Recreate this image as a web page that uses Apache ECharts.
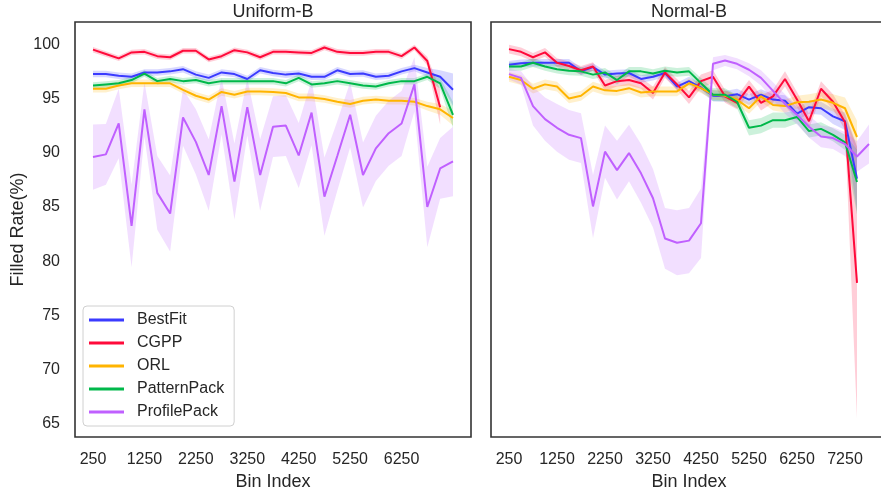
<!DOCTYPE html>
<html>
<head>
<meta charset="utf-8">
<script src="https://cdn.jsdelivr.net/npm/echarts@6/dist/echarts.min.js"></script>
<style>
  html, body { margin: 0; padding: 0; background: #fff; }
  #chart { width: 881px; height: 491px; }
</style>
</head>
<body>
<div id="chart"></div>
<script>
// bin positions (x) for each panel
const binsLeft = [250, 500, 750, 1000, 1250, 1500, 1750, 2000, 2250, 2500, 2750, 3000, 3250, 3500, 3750,
    4000, 4250, 4500, 4750, 5000, 5250, 5500, 5750, 6000, 6250, 6500, 6750, 7000, 7250];
const binsRight = [250, 500, 750, 1000, 1250, 1500, 1750, 2000, 2250, 2500, 2750, 3000, 3250, 3500, 3750,
    4000, 4250, 4500, 4750, 5000, 5250, 5500, 5750, 6000, 6250, 6500, 6750, 7000, 7250, 7500, 7750];

const xTicksLeft = [250, 1250, 2250, 3250, 4250, 5250, 6250];
const xTicksRight = [250, 1250, 2250, 3250, 4250, 5250, 6250, 7250];
const yTicks = [65, 70, 75, 80, 85, 90, 95, 100];

const methods = ['BestFit', 'CGPP', 'ORL', 'PatternPack', 'ProfilePack'];
const colors = ['#3b3bff', '#ff0a3a', '#ffb400', '#00b84a', '#c060ff'];

// Uniform-B: mean filled rate and CI half width
const uniBestFit = [97.25, 97.25, 97.1, 97.0, 97.4, 97.4, 97.5, 97.7, 97.2, 96.9, 97.4, 97.25, 96.8, 97.6, 97.35,
    97.2, 97.3, 97.0, 97.0, 97.6, 97.25, 97.3, 97.0, 97.1, 97.5, 97.8, 97.4, 97.0, 95.8];
const uniBestFitCi = [0.3, 0.3, 0.3, 0.3, 0.3, 0.3, 0.3, 0.3, 0.3, 0.3, 0.3, 0.3, 0.3, 0.3, 0.3,
    0.3, 0.3, 0.3, 0.3, 0.3, 0.3, 0.3, 0.3, 0.3, 0.3, 0.3, 0.4, 0.6, 1.5];
const uniCGPP = [99.5, 99.1, 98.7, 99.25, 99.3, 98.9, 98.8, 99.4, 99.4, 98.6, 98.9, 99.45, 99.25, 98.8, 99.3,
    99.3, 99.25, 99.2, 99.7, 99.3, 99.2, 99.2, 99.3, 99.3, 98.9, 99.7, 98.45, 94.2];
const uniCGPPCi = [0.25, 0.25, 0.25, 0.25, 0.25, 0.25, 0.25, 0.25, 0.25, 0.25, 0.25, 0.25, 0.25, 0.25, 0.25,
    0.25, 0.25, 0.25, 0.25, 0.25, 0.25, 0.25, 0.25, 0.25, 0.25, 0.25, 0.4, 1.6];
const uniORL = [95.9, 95.9, 96.2, 96.4, 96.4, 96.4, 96.4, 95.8, 95.25, 94.9, 95.6, 95.35, 95.65, 95.65, 95.6,
    95.5, 95.1, 95.1, 94.95, 94.7, 94.5, 94.8, 94.9, 94.8, 94.8, 94.7, 94.3, 94.0, 93.2];
const uniORLCi = [0.35, 0.35, 0.35, 0.35, 0.35, 0.35, 0.35, 0.35, 0.35, 0.35, 0.35, 0.35, 0.35, 0.35, 0.35,
    0.35, 0.35, 0.35, 0.35, 0.35, 0.35, 0.35, 0.35, 0.35, 0.35, 0.35, 0.4, 0.5, 0.7];
const uniPatternPack = [96.2, 96.3, 96.4, 96.7, 97.3, 96.6, 96.8, 96.6, 96.7, 96.4, 96.6, 96.6, 96.6, 96.6, 96.6,
    96.4, 96.9, 96.3, 96.4, 96.6, 96.4, 96.2, 96.1, 96.4, 96.6, 96.6, 97.0, 96.4, 93.5];
const uniPatternPackCi = [0.3, 0.3, 0.3, 0.3, 0.3, 0.3, 0.3, 0.3, 0.3, 0.3, 0.3, 0.3, 0.3, 0.3, 0.3,
    0.3, 0.3, 0.3, 0.3, 0.3, 0.3, 0.3, 0.3, 0.3, 0.3, 0.3, 0.3, 0.5, 1.2];
const uniProfilePack = [89.6, 89.85, 92.7, 83.25, 94.0, 86.3, 84.4, 93.25, 91.0, 87.95, 94.3, 87.35, 94.2, 87.95, 92.4,
    92.5, 89.75, 93.7, 85.95, 89.7, 93.5, 87.95, 90.4, 91.8, 92.7, 96.3, 85.0, 88.55, 89.2];
const uniProfilePackCi = [3.0, 2.8, 3.2, 3.8, 2.5, 3.4, 3.5, 2.6, 3.0, 3.3, 2.6, 3.5, 2.6, 3.3, 2.8,
    2.8, 3.0, 3.0, 3.6, 3.2, 3.0, 3.0, 3.0, 3.0, 3.0, 2.5, 3.7, 2.8, 3.2];

// Normal-B
const normBestFit = [98.1, 98.25, 98.3, 98.3, 98.3, 98.3, 97.5, 97.9, 97.2, 97.3, 97.35, 96.8, 97.0, 97.35, 96.1,
    96.6, 96.0, 95.25, 95.2, 95.4, 94.9, 95.35, 94.9, 94.8, 93.6, 94.2, 94.1, 93.35, 92.9, 87.6];
const normBestFitCi = [0.35, 0.35, 0.35, 0.35, 0.35, 0.35, 0.35, 0.35, 0.35, 0.35, 0.35, 0.35, 0.35, 0.35, 0.35,
    0.4, 0.4, 0.5, 0.5, 0.5, 0.5, 0.5, 0.5, 0.5, 0.6, 0.6, 0.6, 0.7, 0.8, 3.0];
const normCGPP = [99.55, 99.3, 98.8, 99.25, 98.3, 98.0, 97.6, 97.95, 96.2, 96.6, 96.7, 96.4, 95.5, 97.4, 96.3,
    95.1, 96.6, 97.0, 95.2, 94.6, 96.1, 94.6, 95.2, 96.8, 94.9, 92.9, 95.9, 94.7, 92.8, 78.0];
const normCGPPCi = [0.4, 0.4, 0.4, 0.4, 0.4, 0.4, 0.4, 0.4, 0.5, 0.5, 0.5, 0.5, 0.6, 0.5, 0.5,
    0.6, 0.6, 0.6, 0.6, 0.6, 0.6, 0.7, 0.6, 0.7, 0.7, 0.7, 0.7, 0.7, 0.7, 12.5];
const normORL = [97.0, 96.7, 95.9, 96.3, 96.1, 95.0, 95.25, 96.1, 95.75, 95.7, 95.95, 95.55, 95.65, 95.65, 95.65,
    96.4, 95.95, 95.35, 95.25, 94.9, 94.1, 95.2, 94.4, 94.3, 94.65, 94.7, 94.9, 94.6, 94.1, 91.45];
const normORLCi = [0.45, 0.45, 0.45, 0.45, 0.45, 0.45, 0.45, 0.45, 0.45, 0.45, 0.45, 0.45, 0.45, 0.45, 0.45,
    0.45, 0.45, 0.45, 0.45, 0.5, 0.5, 0.5, 0.5, 0.6, 0.6, 0.7, 0.7, 0.8, 1.0, 1.5];
const normPatternPack = [97.95, 97.95, 98.3, 97.95, 97.7, 97.55, 97.5, 97.2, 97.4, 96.7, 97.5, 97.5, 97.3, 97.55, 97.4,
    97.5, 96.4, 95.35, 95.35, 94.7, 92.3, 92.5, 93.0, 93.0, 93.3, 92.0, 92.2, 91.65, 90.95, 87.3];
const normPatternPackCi = [0.4, 0.4, 0.4, 0.4, 0.4, 0.4, 0.4, 0.4, 0.4, 0.4, 0.4, 0.4, 0.4, 0.4, 0.4,
    0.4, 0.5, 0.6, 0.6, 0.6, 0.7, 0.7, 0.7, 0.7, 0.6, 0.6, 0.6, 0.6, 0.7, 3.0];
const normProfilePack = [97.25, 96.9, 94.3, 93.1, 92.3, 91.65, 91.35, 85.05, 90.1, 88.4, 89.97, 88.1, 85.8, 82.1, 81.7,
    81.9, 83.5, 98.2, 98.5, 98.2, 97.65, 96.9, 95.7, 94.5, 93.5, 92.4, 91.5, 91.35, 90.8, 89.65, 90.8];
const normProfilePackCi = [0.5, 0.6, 1.8, 2.0, 2.2, 2.3, 2.3, 2.9, 2.4, 2.7, 2.6, 2.7, 2.7, 2.8, 3.0,
    3.0, 3.2, 0.6, 0.5, 0.5, 0.6, 0.7, 0.8, 0.9, 0.9, 1.0, 1.0, 1.0, 1.1, 1.4, 1.8];

const uniform = [
    [uniBestFit, uniBestFitCi], [uniCGPP, uniCGPPCi], [uniORL, uniORLCi],
    [uniPatternPack, uniPatternPackCi], [uniProfilePack, uniProfilePackCi]
];
const normal = [
    [normBestFit, normBestFitCi], [normCGPP, normCGPPCi], [normORL, normORLCi],
    [normPatternPack, normPatternPackCi], [normProfilePack, normProfilePackCi]
];

const FONT = "'Liberation Sans', Arial, sans-serif";
const TEXT = '#262626';

let chart = echarts.init(document.getElementById('chart'));
let series = [];

function addMethod(axisIdx, name, color, xs, ys, ci) {
    // confidence band: [x, low, high] per bin, drawn as one polygon through the axis scales
    let pts = ys.map((v, i) => [xs[i], v - ci[i], v + ci[i]]);
    series.push({
        name: name + '_band', type: 'custom', xAxisIndex: axisIdx, yAxisIndex: axisIdx,
        silent: true, clip: true,
        data: pts,
        encode: { x: 0, y: [1, 2] },
        renderItem: (params, api) => {
            if (params.dataIndex !== 0) return;
            let upper = pts.map(p => api.coord([p[0], p[2]]));
            let lower = pts.map(p => api.coord([p[0], p[1]])).reverse();
            return {
                type: 'polygon',
                shape: { points: upper.concat(lower) },
                style: { fill: color, opacity: 0.2 }
            };
        }
    });
    series.push({
        name: name, type: 'line', xAxisIndex: axisIdx, yAxisIndex: axisIdx,
        data: ys.map((v, i) => [xs[i], v]),
        symbol: 'none',
        lineStyle: { color: color, width: 2 },
        itemStyle: { color: color }
    });
}

methods.forEach((m, k) => {
    addMethod(0, m, colors[k], binsLeft, uniform[k][0], uniform[k][1]);
});
methods.forEach((m, k) => {
    addMethod(1, m, colors[k], binsRight, normal[k][0], normal[k][1]);
});

function xAxis(idx, min, max, ticks) {
    return {
        type: 'value', gridIndex: idx, min: min, max: max,
        name: 'Bin Index', nameLocation: 'middle', nameGap: 35,
        nameTextStyle: { fontSize: 18, color: TEXT, fontFamily: FONT },
        axisLine: { show: false }, axisTick: { show: false }, splitLine: { show: false },
        axisLabel: {
            customValues: ticks, fontSize: 16, color: TEXT, fontFamily: FONT, margin: 15,
            formatter: v => String(v)
        }
    };
}

function yAxis(idx, showLabels) {
    return {
        type: 'value', gridIndex: idx, min: 63.8, max: 102.05,
        name: showLabels ? 'Filled Rate(%)' : '', nameLocation: 'middle', nameGap: 48, nameRotate: 90,
        nameTextStyle: { fontSize: 18, color: TEXT, fontFamily: FONT },
        axisLine: { show: false }, axisTick: { show: false }, splitLine: { show: false },
        axisLabel: { show: showLabels, customValues: yTicks, fontSize: 16, color: TEXT, fontFamily: FONT, margin: 15 }
    };
}

let option = {
    animation: false,
    backgroundColor: '#fff',
    grid: [
        { left: 75, top: 22, width: 396, height: 415, outerBoundsMode: 'none', show: true, borderColor: '#333', borderWidth: 1.6 },
        { left: 491, top: 22, width: 396, height: 415, outerBoundsMode: 'none', show: true, borderColor: '#333', borderWidth: 1.6 }
    ],
    xAxis: [xAxis(0, -100, 7600, xTicksLeft), xAxis(1, -125, 8125, xTicksRight)],
    yAxis: [yAxis(0, true), yAxis(1, false)],
    legend: {
        data: methods,
        orient: 'vertical',
        left: 83, top: 306,
        padding: [6, 10, 6, 6],
        itemWidth: 35, itemHeight: 3, itemGap: 7,
        icon: 'rect',
        backgroundColor: '#fff',
        borderColor: '#d0d0d0', borderWidth: 1, borderRadius: 4,
        textStyle: { fontSize: 16, color: TEXT, fontFamily: FONT, lineHeight: 16, padding: [0, 0, 0, 8] }
    },
    graphic: [
        { type: 'text', x: 273, y: 12, style: { text: 'Uniform-B', align: 'center', verticalAlign: 'middle', fontSize: 18, fontFamily: FONT, fill: TEXT } },
        { type: 'text', x: 689, y: 12, style: { text: 'Normal-B', align: 'center', verticalAlign: 'middle', fontSize: 18, fontFamily: FONT, fill: TEXT } }
    ],
    series: series
};

chart.setOption(option);
</script>
</body>
</html>
